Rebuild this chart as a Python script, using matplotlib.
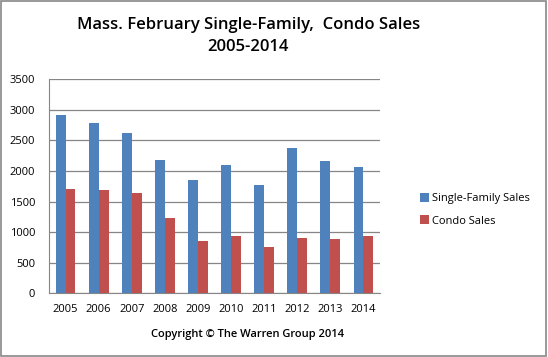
import numpy as np
import matplotlib
matplotlib.use("Agg")
import matplotlib.pyplot as plt
from matplotlib.patches import Rectangle

years = ['2005', '2006', '2007', '2008', '2009', '2010', '2011', '2012', '2013', '2014']
single_family = [2920, 2790, 2620, 2180, 1850, 2100, 1770, 2375, 2165, 2065]
condo = [1710, 1690, 1640, 1230, 855, 935, 755, 905, 888, 935]

plt.rcParams['font.family'] = ['Open Sans', 'DejaVu Sans']

fig = plt.figure(figsize=(5.48, 3.57), dpi=100)
fig.patches.append(Rectangle((0.002, 0.003), 0.995, 0.993, transform=fig.transFigure,
                             fill=False, edgecolor='#888888', linewidth=1.2))

ax = fig.add_axes([49 / 548, 1 - 293.3 / 357, 331 / 548, 214 / 357])
x = np.arange(len(years))
w = 0.3
ax.bar(x - w / 2, single_family, w, color='#4F81BD', label='Single-Family Sales', zorder=3)
ax.bar(x + w / 2, condo, w, color='#C0504D', label='Condo Sales', zorder=3)

ax.set_xlim(-0.5, len(years) - 0.5)
ax.set_ylim(0, 3500)
ax.set_yticks(range(0, 3501, 500))
ax.set_xticks(x)
ax.set_xticklabels(years)
ax.yaxis.grid(True, color='#868686', linewidth=0.9, zorder=0)
for s in ['top', 'right']:
    ax.spines[s].set_visible(False)
ax.spines['left'].set_color('#868686')
ax.spines['bottom'].set_color('#868686')
ax.tick_params(axis='both', length=0, labelsize=8, colors='black', pad=8)
ax.tick_params(axis='y', pad=10)

fig.text(0.453, 0.93, 'Mass. February Single-Family,  Condo Sales', ha='center', va='center',
         fontsize=12, fontweight='semibold')
fig.text(0.453, 0.868, '2005-2014', ha='center', va='center', fontsize=12, fontweight='semibold')
fig.text(0.451, 0.062, 'Copyright \u00a9 The Warren Group 2014', ha='center', va='center',
         fontsize=8, fontweight='semibold')

ax.legend(loc='center left', bbox_to_anchor=(1.12, 0.39), frameon=False, fontsize=8,
          handlelength=0.8, handleheight=0.8, handletextpad=0.3, labelspacing=1.0,
          borderaxespad=0, borderpad=0)

fig.savefig('out.png', dpi=100)
